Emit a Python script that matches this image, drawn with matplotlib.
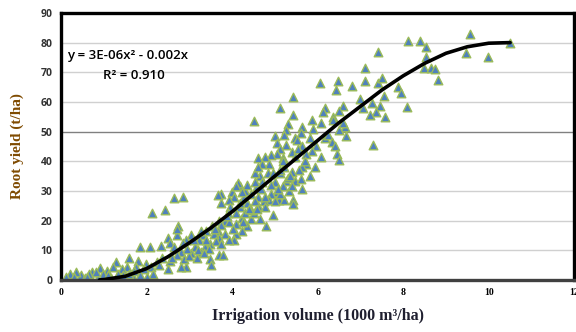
import matplotlib
matplotlib.use("Agg")
import matplotlib.pyplot as plt

# irrigation volume (1000 m3/ha) and root yield (t/ha)
irr = [9.57, 8.12, 8.40, 8.53, 10.49, 9.47, 9.99, 8.53, 8.48, 8.65, 8.74, 8.81,
       7.42, 7.11, 7.11, 7.41, 7.51, 6.81, 6.48, 6.05, 6.42, 7.88, 7.95, 7.54,
       6.99, 7.27, 8.08, 7.45, 7.06, 7.36, 7.22, 7.58, 7.30, 6.60, 6.16, 6.50,
       6.13, 6.37, 6.37, 5.43, 5.13, 5.43, 4.51, 5.86, 6.07, 6.65, 6.67, 6.50,
       6.59, 6.16, 6.24, 6.33, 6.41, 6.45, 6.50, 6.07, 5.97, 5.94, 5.86, 5.81,
       5.89, 5.64, 5.60, 5.47, 5.52, 5.30, 5.26, 5.22, 5.00, 5.04, 5.13, 5.26,
       5.39, 5.47, 5.64, 5.73, 5.73, 5.64, 5.81, 5.64, 5.56, 5.39, 5.22, 5.18,
       5.04, 4.91, 4.78, 4.61, 4.87, 4.70, 5.13, 5.26, 5.00, 5.18, 5.04, 4.91,
       4.83, 4.65, 4.53, 4.70, 4.57, 4.44, 4.61, 4.87, 5.09, 5.22, 5.43, 5.43,
       5.00, 4.74, 4.78, 4.96, 4.80, 4.65, 4.44, 4.51, 4.35, 4.27, 4.18, 4.14,
       4.31, 4.00, 4.05, 3.92, 3.75, 3.66, 3.75, 3.96, 4.18, 4.09, 4.22, 4.35,
       4.22, 4.09, 4.05, 3.91, 3.83, 3.70, 3.92, 3.75, 3.66, 3.83, 3.70, 3.57,
       3.53, 3.40, 3.32, 3.23, 3.49, 3.36, 3.27, 3.14, 3.05, 3.18, 3.70, 3.79,
       3.49, 3.51, 3.05, 2.93, 2.84, 2.71, 2.73, 2.70, 2.86, 2.65, 2.13, 2.44,
       2.49, 2.54, 2.33, 2.08, 1.85, 2.63, 2.80, 2.71, 2.88, 2.93, 2.80, 2.54,
       2.37, 2.24, 2.49, 2.28, 2.11, 2.15, 1.98, 1.81, 1.59, 1.94, 1.76, 1.55,
       1.42, 1.29, 1.21, 1.08, 0.90, 0.99, 0.73, 0.65, 0.47, 0.34, 0.22, 0.11,
       0.30, 0.56, 0.86, 1.16, 1.42, 1.68, 1.85, 2.02, 1.59, 1.34, 0.82, 3.27,
       3.10, 3.62, 3.75, 3.40, 3.92, 4.09, 4.18, 4.44, 4.31, 4.61, 4.53, 4.78,
       5.13, 5.34, 4.61, 4.96, 5.13, 5.30, 5.47, 5.60, 5.39, 4.53, 4.35, 4.22,
       4.09, 3.45, 3.60, 3.88, 4.02, 4.25, 4.40, 4.58, 4.68, 4.90, 5.08, 5.20,
       5.35, 5.55, 5.70, 3.20, 3.00, 2.95, 3.35, 2.60, 1.70, 1.45, 1.10, 0.60]
yld = [83.0, 80.5, 80.5, 78.5, 80.0, 76.5, 75.0, 75.0, 71.5, 71.5, 71.0, 67.5,
       77.0, 71.5, 67.0, 66.5, 68.0, 65.5, 67.0, 66.5, 64.0, 65.0, 63.0, 62.0,
       61.0, 59.5, 58.3, 58.5, 58.0, 56.5, 55.5, 55.0, 45.5, 58.5, 58.0, 57.0,
       56.5, 55.0, 54.0, 61.5, 58.0, 55.5, 53.5, 54.0, 53.0, 51.5, 48.5, 50.5,
       53.0, 48.0, 49.0, 46.5, 45.0, 42.5, 40.5, 41.5, 45.0, 38.0, 43.5, 48.0,
       51.0, 51.5, 49.5, 48.0, 47.0, 52.5, 50.5, 49.0, 48.5, 46.0, 44.0, 45.5,
       43.0, 41.5, 45.0, 42.5, 39.0, 38.0, 35.0, 30.5, 37.0, 36.5, 38.0, 41.0,
       42.5, 42.0, 41.5, 41.0, 39.0, 39.0, 36.0, 33.5, 33.0, 31.5, 29.5, 29.0,
       36.0, 35.0, 36.0, 33.0, 31.5, 29.0, 28.0, 27.0, 27.0, 27.0, 27.0, 25.5,
       26.5, 26.5, 24.5, 22.0, 18.0, 20.5, 20.5, 22.5, 26.0, 28.0, 31.5, 32.5,
       30.0, 29.5, 28.0, 27.0, 29.0, 28.5, 26.0, 24.5, 24.5, 22.5, 21.0, 18.0,
       16.5, 15.5, 13.5, 22.5, 20.0, 20.0, 19.5, 18.5, 16.5, 15.5, 14.0, 15.5,
       18.0, 16.5, 15.0, 13.5, 12.0, 11.0, 9.5, 11.0, 9.0, 7.5, 8.5, 8.5,
       7.0, 5.0, 15.0, 13.5, 12.5, 15.0, 18.0, 17.0, 28.0, 27.5, 22.5, 23.5,
       14.0, 12.5, 11.5, 11.0, 11.0, 11.0, 9.5, 8.5, 7.0, 4.5, 4.5, 6.5,
       7.5, 6.0, 3.5, 5.0, 4.5, 2.0, 5.5, 6.5, 7.5, 3.5, 4.5, 4.5,
       3.5, 6.0, 4.5, 3.0, 4.0, 2.0, 2.5, 2.0, 1.5, 2.5, 2.0, 1.0,
       1.0, 0.5, 0.5, 0.5, 0.3, 1.0, 1.5, 1.0, 2.0, 2.0, 2.5, 16.5,
       13.5, 13.0, 12.0, 13.5, 13.5, 19.0, 26.0, 23.5, 22.5, 25.0, 26.5, 28.0,
       29.0, 30.0, 38.0, 36.0, 37.0, 34.5, 33.5, 34.0, 31.5, 33.0, 32.0, 29.5,
       31.5, 10.5, 17.0, 21.5, 17.0, 19.5, 24.0, 24.0, 30.5, 32.0, 30.5, 40.0,
       35.0, 44.0, 40.0, 10.0, 8.0, 10.5, 9.0, 7.5, 3.0, 1.5, 1.5, 1.0]

# fitted trend line
fit_x = [0.9, 1.0, 1.5, 2.0, 2.5, 3.0, 3.5, 4.0, 4.5, 5.0, 5.5, 6.0, 6.5, 7.0,
         7.5, 8.0, 8.5, 9.0, 9.5, 10.0, 10.5]
fit_y = [0.0, 0.1, 1.2, 3.8, 7.8, 12.5, 17.5, 23.0, 29.0, 35.0, 41.0, 47.0,
         53.0, 58.5, 64.0, 68.8, 73.0, 76.4, 78.6, 79.8, 80.0]

eq_text = "y = 3E-06x² - 0.002x"
r2_text = "R² = 0.910"

fig = plt.figure(figsize=(5.76, 3.32), dpi=100)
ax = fig.add_axes([0.106, 0.157, 0.891, 0.804])

for v in range(10, 90, 10):
    ax.axhline(v, color="#808080" if v == 50 else "#d0d0d0", lw=1.0, zorder=0)

ax.scatter(irr, yld, marker="^", s=38, facecolor="#4f81bd",
           edgecolor="#9bbb59", linewidth=1.0, zorder=2)
ax.plot(fit_x, fit_y, color="black", lw=2.6, solid_capstyle="round",
        solid_joinstyle="round", zorder=3)

ax.set_xlim(0, 12)
ax.set_ylim(0, 90)
ax.set_xticks(range(0, 13, 2))
ax.set_yticks(range(0, 91, 10))
for s in ["left", "top", "right"]:
    ax.spines[s].set_linewidth(2.4)
    ax.spines[s].set_color("black")
ax.spines["bottom"].set_linewidth(2.4)
ax.spines["bottom"].set_color("#404040")
ax.tick_params(length=0, pad=6)
for t in ax.get_xticklabels():
    t.set_fontfamily("Liberation Serif")
    t.set_fontweight("bold")
    t.set_fontsize(7)
for t in ax.get_yticklabels():
    t.set_fontfamily("Open Sans")
    t.set_fontweight("bold")
    t.set_fontsize(7.5)
    t.set_color("#333333")

ax.set_xlabel("Irrigation volume (1000 m³/ha)", family="Liberation Serif",
              fontsize=11.5, fontweight="bold", color="#1f1f2f", labelpad=8)
ax.set_ylabel("Root yield (t/ha)", family="Liberation Serif", fontsize=11,
              fontweight="bold", color="#7f4a00", labelpad=12)

ax.text(0.14, 75.8, eq_text, family="Open Sans", fontsize=9.5,
        fontweight="semibold", va="center")
ax.text(0.98, 69.0, r2_text, family="Open Sans", fontsize=9.5,
        fontweight="semibold", va="center")

fig.savefig("out.png", dpi=100)
